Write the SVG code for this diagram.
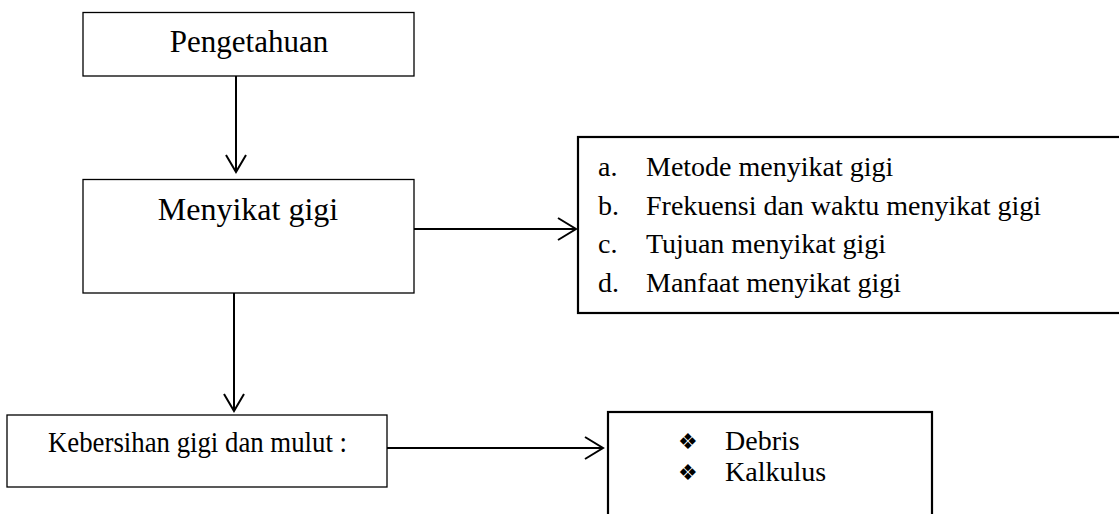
<svg xmlns="http://www.w3.org/2000/svg" width="1119" height="514" viewBox="0 0 1119 514">
<style>
.box{fill:#fff;stroke:#000;stroke-width:1.3}
.thick{fill:#fff;stroke:#000;stroke-width:2.2}
.t{font-family:"Liberation Serif","Times New Roman",serif;fill:#000}
.c{stroke:#000;stroke-width:2;fill:none}
.bul{font-family:"DejaVu Sans",sans-serif;font-size:22px;fill:#000}
</style>
<rect width="1119" height="514" fill="#fff"/>
<g id="connectors">
<line class="c" x1="236" y1="76" x2="236" y2="172"/>
<polyline class="c" points="226,155 236,172 246,155"/>
<line class="c" x1="414" y1="229" x2="576" y2="229"/>
<polyline class="c" points="558,218 576,229 558,240"/>
<line class="c" x1="234" y1="293" x2="234" y2="411"/>
<polyline class="c" points="224,394 234,411 244,394"/>
<line class="c" x1="387" y1="448" x2="603" y2="448"/>
<polyline class="c" points="585,437 603,448 585,459"/>
</g>
<g id="pengetahuan">
<rect class="box" x="83" y="12.5" width="331" height="63.5" stroke="#444" stroke-width="1.6"/>
<text class="t" x="249" y="52" font-size="31" text-anchor="middle">Pengetahuan</text>
</g>
<g id="menyikat">
<rect class="box" x="83" y="179.5" width="331" height="113.5"/>
<text class="t" x="248" y="220" font-size="32" text-anchor="middle">Menyikat gigi</text>
</g>
<g id="list">
<rect class="thick" x="578" y="137" width="545" height="176"/>
<text class="t" font-size="28"><tspan x="598" y="176">a.</tspan><tspan x="646" y="176">Metode menyikat gigi</tspan></text>
<text class="t" font-size="28"><tspan x="598" y="215">b.</tspan><tspan x="646" y="215">Frekuensi dan waktu menyikat gigi</tspan></text>
<text class="t" font-size="28"><tspan x="598" y="253">c.</tspan><tspan x="646" y="253">Tujuan menyikat gigi</tspan></text>
<text class="t" font-size="28"><tspan x="598" y="292">d.</tspan><tspan x="646" y="292">Manfaat menyikat gigi</tspan></text>
</g>
<g id="kebersihan">
<rect class="box" x="7" y="415" width="380" height="72"/>
<text class="t" x="48" y="452" font-size="29" textLength="299" lengthAdjust="spacingAndGlyphs">Kebersihan gigi dan mulut :</text>
</g>
<g id="debris">
<rect class="thick" x="608" y="412" width="324" height="120"/>
<text class="bul" x="678" y="449">❖</text>
<text class="t" x="725" y="450" font-size="28">Debris</text>
<text class="bul" x="678" y="480">❖</text>
<text class="t" x="725" y="481" font-size="28">Kalkulus</text>
</g>
</svg>
